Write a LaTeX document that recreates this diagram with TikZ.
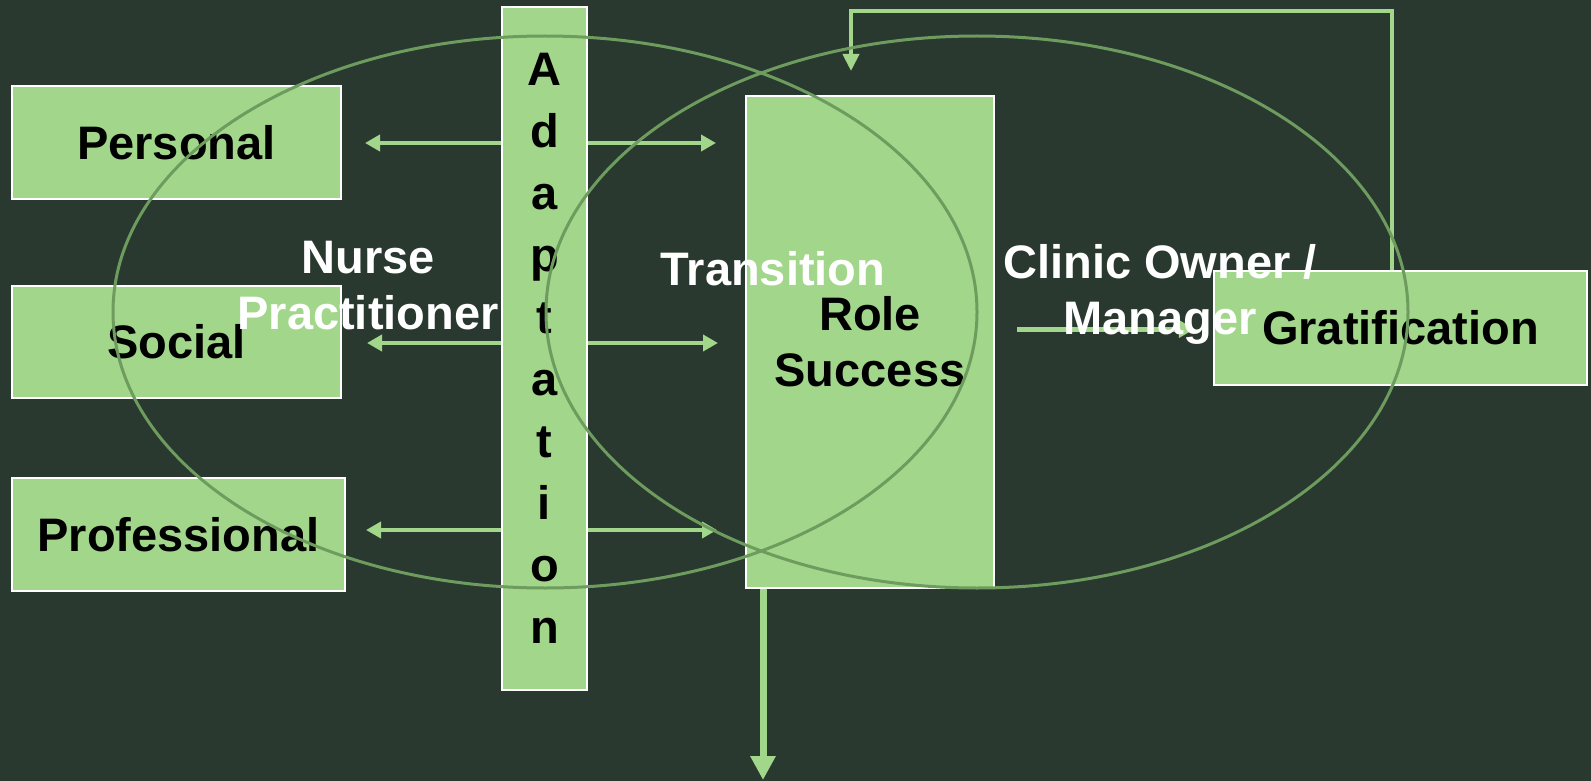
\documentclass[tikz,border=0pt]{standalone}
\usepackage{fontspec}
\setmainfont{Liberation Sans}
\usepackage{tikz}
\usetikzlibrary{arrows.meta,positioning,calc}

\definecolor{bgdark}{HTML}{29392F}
\definecolor{boxgreen}{HTML}{A1D68B}
\definecolor{ringgreen}{HTML}{6D9C5E}

\begin{document}
\begin{tikzpicture}[x=1pt, y=-1pt,
  box/.style={draw=white, line width=2.5pt, fill=boxgreen, rectangle, inner sep=0pt,
    text=black, align=center, font=\bfseries\fontsize{47}{56}\selectfont},
  heading/.style={text=white, align=center, inner sep=0pt, font=\bfseries\fontsize{47}{56}\selectfont},
  link/.style={draw=boxgreen, line width=4pt},
  ring/.style={draw=ringgreen, line width=3pt}]
\useasboundingbox (0,0) rectangle (1591,781);
\fill[bgdark] (0,0) rectangle (1591,781);

% Double arrows through the adaptation bar
\coordinate (pl) at (365,143);  \coordinate (pr) at (716,143);
\coordinate (sl) at (367,343);  \coordinate (sr) at (718,343);
\coordinate (fl) at (366,530);  \coordinate (fr) at (717,530);
\draw[link, {Triangle[width=16pt,length=15pt]}-{Triangle[width=16pt,length=15pt]}] (pl) -- (pr);
\draw[link, {Triangle[width=16pt,length=15pt]}-{Triangle[width=16pt,length=15pt]}] (sl) -- (sr);
\draw[link, {Triangle[width=16pt,length=15pt]}-{Triangle[width=16pt,length=15pt]}] (fl) -- (fr);

% Boxes
\node[box, minimum width=329pt, minimum height=113pt] (personal) at (176.5,142.5) {Personal};
\node[box, minimum width=329pt, minimum height=112pt] (social) at (176.5,342) {Social};
\node[box, minimum width=333pt, minimum height=113pt] (professional) at (178.5,534.5) {Professional};
\node[box, minimum width=85pt, minimum height=683pt, font=\bfseries\fontsize{47}{62}\selectfont]
  (adapt) at (544.5,348.5) {A\\d\\a\\p\\t\\a\\t\\i\\o\\n};
\node[box, minimum width=248pt, minimum height=492pt] (role) at (870,342) {Role\\Success};
\node[box, minimum width=373pt, minimum height=114pt] (grat) at (1400.5,328) {Gratification};

% Arrows
\coordinate (rs) at (1017,329);
\draw[link, line width=5pt, -{Triangle[width=17pt,length=16pt]}, shorten >=18pt] (rs) -- (grat.west |- rs);
\coordinate (fbtop) at (851,11);
\coordinate (fbend) at (851,71);
\draw[link, -{Triangle[width=16pt,length=17pt]}] ([xshift=-8.5pt]grat.north) |- (fbtop) -- (fbend);
\coordinate (exit) at (763,780);
\draw[link, line width=7pt, -{Triangle[width=24pt,length=24pt]}] (exit |- role.south) -- (exit);

% Ellipses
\draw[ring] (545,312) ellipse [x radius=432pt, y radius=276pt];
\draw[ring] (977,312) ellipse [x radius=431pt, y radius=276pt];

% Labels
\node[heading] (nurse) at (368,286) {Nurse\\Practitioner};
\node[heading] (trans) at (773,269) {Transition};
\node[heading] (clinic) at (1160,294) {Clinic Owner /\\Manager};
\end{tikzpicture}
\end{document}
